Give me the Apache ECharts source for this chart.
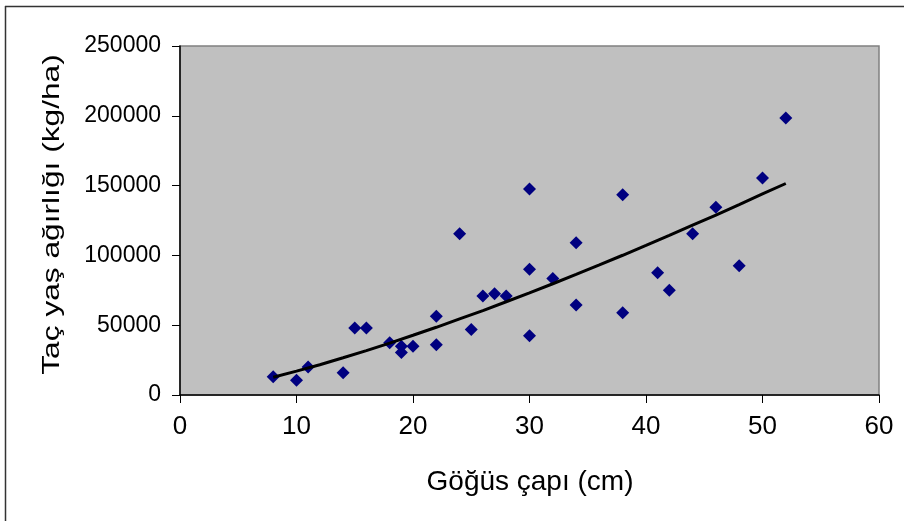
<!DOCTYPE html>
<html>
<head>
<meta charset="utf-8">
<script src="https://cdn.jsdelivr.net/npm/echarts@6/dist/echarts.min.js"></script>
<style>
html,body{margin:0;padding:0;background:#fff;}
#chart{width:904px;height:521px;}
</style>
</head>
<body>
<div id="chart"></div>
<script>
// Observed data (Göğüs çapı cm, Taç yaş ağırlığı kg/ha)
var diameterCm = [8,10,11,14,15,16,18,19,19,20,22,22,24,25,26,27,28,30,30,30,32,34,34,38,38,41,42,44,46,48,50,52];
var crownWeight = [13000,10500,20000,16000,48000,48000,37500,35000,30500,35000,56500,36000,115500,47000,71000,72500,71000,147500,90000,42500,83500,109000,64500,143500,59000,87500,75000,115500,134500,92500,155500,198500];
// Trend line
var trendX = [8,10,12,14,16,18,20,22,24,26,28,30,32,34,36,38,40,42,44,46,48,50,52];
var trendY = [12700,17100,21700,26700,31800,37200,42800,48500,54500,60500,66800,73200,79700,86400,93200,100100,107100,114300,121600,128900,136400,144000,151500];
var xTicks = [0,10,20,30,40,50,60];
var yTicks = [0,50000,100000,150000,200000,250000];

var xTitle = 'Göğüs çapı (cm)';
var yTitle = 'Taç yaş ağırlığı (kg/ha)';

var chart = echarts.init(document.getElementById('chart'), null, {renderer:'canvas'});
var font = 'Liberation Sans, Arial, Helvetica, sans-serif';

var scatterData = diameterCm.map(function(x,i){return [x, crownWeight[i]];});
var trendData = trendX.map(function(x,i){return [x, trendY[i]];});

chart.setOption({
  animation:false,
  backgroundColor:'#ffffff',
  grid:{left:180, top:46, right:25, bottom:126, show:true, backgroundColor:'#c0c0c0', borderColor:'#808080', borderWidth:1.5},
  xAxis:{
    type:'value', min:xTicks[0], max:xTicks[xTicks.length-1], interval:10,
    axisLine:{show:true, onZero:false, lineStyle:{color:'#000', width:1.5}},
    axisTick:{show:true, inside:false, length:8, lineStyle:{color:'#000', width:1}},
    axisLabel:{color:'#000', fontFamily:font, fontSize:26, margin:19, formatter:function(v){return String(v);}},
    splitLine:{show:false}
  },
  yAxis:{
    type:'value', min:yTicks[0], max:yTicks[yTicks.length-1], interval:50000,
    axisLine:{show:true, onZero:false, lineStyle:{color:'#000', width:1.5}},
    axisTick:{show:true, inside:false, length:8, lineStyle:{color:'#000', width:1}},
    axisLabel:{color:'#000', fontFamily:font, fontSize:23, margin:19, formatter:function(v){return String(v);}},
    splitLine:{show:false}
  },
  graphic:[
    {type:'line', shape:{x1:5, y1:6.5, x2:904, y2:6.5}, style:{stroke:'#333', lineWidth:1.5}},
    {type:'line', shape:{x1:5.5, y1:6, x2:5.5, y2:521}, style:{stroke:'#333', lineWidth:1.5}},
    {type:'text', x:52, y:214.5, rotation:Math.PI/2, scaleX:1.32, scaleY:1,
      style:{text:yTitle, font:'24px '+font, fill:'#000', align:'center', verticalAlign:'middle'}},
    {type:'text', x:530, y:482,
      style:{text:xTitle, font:'28px '+font, fill:'#000', align:'center', verticalAlign:'middle'}}
  ],
  series:[
    {type:'scatter', data:scatterData, symbol:'diamond', symbolSize:13,
      itemStyle:{color:'#000080', opacity:1}, z:2},
    {type:'line', data:trendData, showSymbol:false, symbol:'none', smooth:false,
      lineStyle:{color:'#000', width:3}, z:3}
  ]
});
</script>
</body>
</html>
